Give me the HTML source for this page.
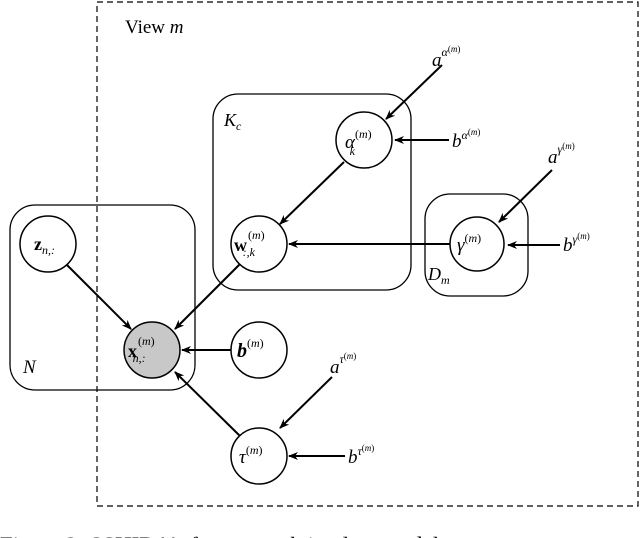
<!DOCTYPE html>
<html><head><style>
html,body{margin:0;padding:0;background:#fff;width:640px;height:538px;overflow:hidden}
svg text{font-family:"Liberation Serif",serif;fill:#000}
.it{font-style:italic}
</style></head><body>
<svg width="640" height="538" viewBox="0 0 640 538" xmlns="http://www.w3.org/2000/svg">
<defs><marker id="ar" markerWidth="10" markerHeight="8" refX="9" refY="4" orient="auto" markerUnits="userSpaceOnUse"><path d="M0,0 L10,4 L0,8 L3,4 Z" fill="#000"/></marker></defs>
<rect x="97" y="2" width="541" height="504" fill="none" stroke="#000" stroke-width="1.2" stroke-dasharray="6,4"/>
<g fill="none" stroke="#000" stroke-width="1.3">
<rect x="10" y="205" width="185" height="185" rx="25"/>
<rect x="213" y="94" width="198" height="196" rx="25"/>
<rect x="425" y="194" width="103" height="102" rx="25"/>
</g>
<g stroke="#000" stroke-width="2" marker-end="url(#ar)">
<line x1="66" y1="264" x2="131" y2="329"/>
<line x1="240" y1="264" x2="175" y2="329"/>
<line x1="232" y1="350" x2="182" y2="350"/>
<line x1="240" y1="436" x2="175" y2="372"/>
<line x1="344" y1="162" x2="280" y2="224"/>
<line x1="451" y1="244" x2="289" y2="244"/>
<line x1="442" y1="65" x2="386" y2="119"/>
<line x1="449" y1="140" x2="395" y2="140"/>
<line x1="552" y1="170" x2="499" y2="222"/>
<line x1="560" y1="245" x2="508" y2="245"/>
<line x1="332" y1="377" x2="280" y2="428"/>
<line x1="345" y1="456" x2="289" y2="456"/>
</g>
<g stroke="#000" stroke-width="1.5" fill="#fff">
<circle cx="48" cy="244" r="28"/>
<circle cx="259" cy="244" r="28"/>
<circle cx="364" cy="140" r="28"/>
<circle cx="477" cy="244" r="27"/>
<circle cx="152" cy="350" r="28" fill="#c8c8c8"/>
<circle cx="259" cy="350" r="28"/>
<circle cx="259" cy="456" r="28"/>
</g>
<text x="125" y="33" font-size="19">View <tspan class="it">m</tspan></text>
<text x="224" y="126" font-size="18" class="it">K<tspan font-size="12" dy="4">c</tspan></text>
<text x="23" y="373" font-size="19" class="it">N</text>
<text x="428" y="280" font-size="18" class="it">D<tspan font-size="12" dy="4">m</tspan></text>
<text x="34" y="250" font-size="18" font-weight="bold">z<tspan font-size="12" font-weight="normal" class="it" dy="4">n,:</tspan></text>
<text x="234" y="251" font-size="18" font-weight="bold">w<tspan font-size="12" font-weight="normal" dy="-12" dx="1">(<tspan class="it">m</tspan>)</tspan><tspan font-size="12" font-weight="normal" class="it" dx="-22" dy="17">:,k</tspan></text>
<text x="345" y="148" font-size="19" class="it">α<tspan font-size="12" dy="-10" font-style="normal">(<tspan class="it">m</tspan>)</tspan><tspan font-size="12" dx="-22" dy="17">k</tspan></text>
<text x="457" y="251" font-size="19" class="it">γ<tspan font-size="12" dy="-9" font-style="normal">(<tspan class="it">m</tspan>)</tspan></text>
<text x="128" y="357" font-size="18" font-weight="bold">x<tspan font-size="12" font-weight="normal" dy="-12" dx="1">(<tspan class="it">m</tspan>)</tspan><tspan font-size="12" font-weight="normal" class="it" dx="-22" dy="17">n,:</tspan></text>
<text x="237" y="357" font-size="20" font-weight="bold" class="it">b<tspan font-size="12" font-weight="normal" dy="-10" font-style="normal">(<tspan class="it">m</tspan>)</tspan></text>
<text x="239" y="463" font-size="19" class="it">τ<tspan font-size="12" dy="-9" font-style="normal">(<tspan class="it">m</tspan>)</tspan></text>
<text x="432" y="66" font-size="19" class="it">a<tspan font-size="12" dy="-10">α</tspan><tspan font-size="9" dy="-4" font-style="normal">(<tspan class="it">m</tspan>)</tspan></text>
<text x="452" y="147" font-size="19" class="it">b<tspan font-size="12" dy="-8">α</tspan><tspan font-size="9" dy="-4" font-style="normal">(<tspan class="it">m</tspan>)</tspan></text>
<text x="548" y="163" font-size="19" class="it">a<tspan font-size="12" dy="-10">γ</tspan><tspan font-size="9" dy="-4" font-style="normal">(<tspan class="it">m</tspan>)</tspan></text>
<text x="563" y="251" font-size="19" class="it">b<tspan font-size="12" dy="-8">γ</tspan><tspan font-size="9" dy="-4" font-style="normal">(<tspan class="it">m</tspan>)</tspan></text>
<text x="330" y="373" font-size="19" class="it">a<tspan font-size="12" dy="-10">τ</tspan><tspan font-size="9" dy="-4" font-style="normal">(<tspan class="it">m</tspan>)</tspan></text>
<text x="348" y="463" font-size="19" class="it">b<tspan font-size="12" dy="-8">τ</tspan><tspan font-size="9" dy="-4" font-style="normal">(<tspan class="it">m</tspan>)</tspan></text>
<text x="0" y="553" font-size="23">Figure 2: SSHIBA's factor graph in plate model</text>
</svg>
</body></html>
